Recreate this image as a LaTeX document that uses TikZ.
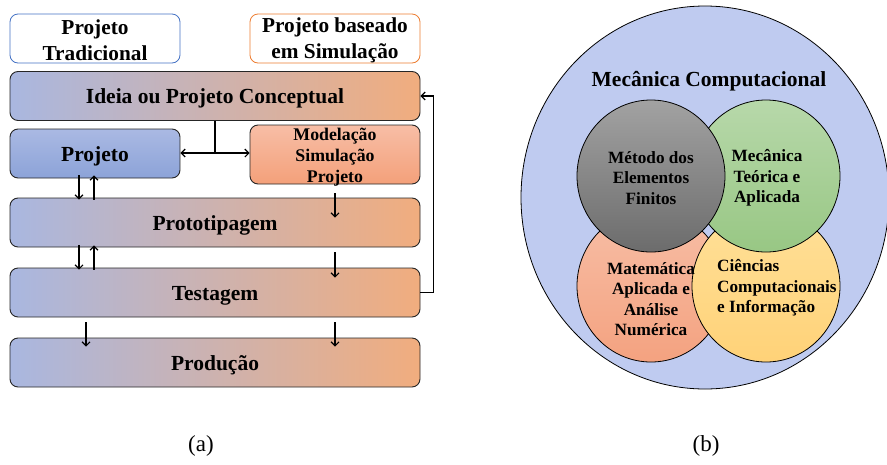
\documentclass[tikz,border=0pt]{standalone}
\usepackage{fontspec}
\setmainfont{Liberation Serif}
\usetikzlibrary{arrows.meta,calc}

\definecolor{stageL}{RGB}{169,183,224}
\definecolor{stageR}{RGB}{241,173,126}
\definecolor{projTop}{RGB}{170,185,227}
\definecolor{projBot}{RGB}{140,163,216}
\definecolor{simTop}{RGB}{247,190,166}
\definecolor{simBot}{RGB}{244,160,122}
\definecolor{hdrBlue}{RGB}{68,114,196}
\definecolor{hdrOrange}{RGB}{237,125,49}
\definecolor{outerFill}{RGB}{191,203,240}
\definecolor{grayTop}{RGB}{162,162,162}
\definecolor{grayBot}{RGB}{108,108,108}
\definecolor{greenTop}{RGB}{183,216,170}
\definecolor{greenBot}{RGB}{152,199,132}
\definecolor{salmonTop}{RGB}{247,190,166}
\definecolor{salmonBot}{RGB}{244,162,128}
\definecolor{yellowTop}{RGB}{255,224,152}
\definecolor{yellowBot}{RGB}{255,210,120}

\tikzset{
  boxbase/.style={rounded corners=8pt, inner sep=0pt, align=center},
  header/.style={boxbase, fill=white, line width=0.8pt,
    minimum width=170pt, minimum height=49pt},
  headtext/.style={inner sep=0pt, align=center,
    font=\bfseries\fontsize{21.3}{25.7}\selectfont},
  stage/.style={boxbase, draw=black!85, line width=0.9pt,
    left color=stageL, right color=stageR,
    minimum width=410pt, minimum height=49pt,
    text height=15pt, text depth=0pt,
    font=\bfseries\fontsize{21.5}{25}\selectfont},
  arr/.style={line width=1.1pt, -{Straight Barb[length=4pt,width=8pt]}},
  link/.style={line width=1.1pt},
  bubble/.style={draw=black, line width=0.8pt},
  bubtext/.style={inner sep=0pt, align=center,
    font=\bfseries\fontsize{17.2}{20.5}\selectfont},
}

\begin{document}
\begin{tikzpicture}[x=1pt,y=-1pt]
\useasboundingbox (0,0) rectangle (887,464);

% ---------- (a) design workflow ----------
\node[header, draw=hdrBlue]   (trad) at (95,38.5)  {};
\node[header, draw=hdrOrange] (simh) at (335,38.5) {};
\node[headtext] (tradtxt) at (95,40)  {Projeto\\Tradicional};
\node[headtext] (simhtxt) at (335,40) {Projeto baseado\\em Simulação};

\node[stage] (ideia) at (215,96) {Ideia ou Projeto Conceptual};
\node[boxbase, draw=black!85, line width=0.9pt, top color=projTop, bottom color=projBot,
      minimum width=170pt, minimum height=49pt, text height=15pt, text depth=0pt,
      font=\bfseries\fontsize{21.5}{25}\selectfont] (proj) at (95,153.5) {Projeto};
\node[boxbase, draw=black!85, line width=0.9pt, top color=simTop, bottom color=simBot,
      minimum width=170pt, minimum height=59pt] (model) at (335,154.5) {};
\node[inner sep=0pt, align=center, font=\bfseries\fontsize{17.8}{21}\selectfont]
      (modeltxt) at (335,157) {Modelação\\Simulação\\Projeto};
\node[stage] (proto) at (215,222.5) {Prototipagem};
\node[stage] (teste) at (215,292.5) {Testagem};
\node[stage] (prod)  at (215,362.5) {Produção};

% columns of the vertical arrows
\coordinate (cDown) at (79,0);
\coordinate (cUp)   at (94,0);
\coordinate (cProd) at (86,0);
\coordinate (cSim)  at (335,0);
\coordinate (split) at (215,153);

% concept splits into both design routes
\draw[link] (ideia.south) -- (split);
\draw[arr] (split) -- (split -| proj.east);
\draw[arr] (split) -- (split -| model.west);

% traditional route: back-and-forth iterations
\draw[arr] ([yshift=3pt]proj.south -| cDown) -- ([yshift=-2pt]proto.north -| cDown);
\draw[arr] ([yshift=-2pt]proto.north -| cUp) -- ([yshift=3pt]proj.south -| cUp);
\draw[arr] ([yshift=2pt]proto.south -| cDown) -- ([yshift=-2pt]teste.north -| cDown);
\draw[arr] ([yshift=-2pt]teste.north -| cUp) -- ([yshift=2pt]proto.south -| cUp);
\draw[arr] ([yshift=-5pt]teste.south -| cProd) -- ([yshift=-9pt]prod.north -| cProd);

% simulation-based route
\draw[arr] ([yshift=-9pt]model.south -| cSim) -- ([yshift=-20pt]proto.north -| cSim);
\draw[arr] ([yshift=-5pt]proto.south -| cSim) -- ([yshift=-10pt]teste.north -| cSim);
\draw[arr] ([yshift=-5pt]teste.south -| cSim) -- ([yshift=-9pt]prod.north -| cSim);

% feedback from testing to the concept
\draw[arr] (teste.east) -- ++(13,0) |- (ideia.east);

\node[font=\fontsize{23}{27}\selectfont, inner sep=0pt] (capA) at (201,446) {(a)};

% ---------- (b) computational mechanics ----------
\path[bubble, fill=outerFill] (705,197.5) ellipse [x radius=184, y radius=191.5];
\node[inner sep=0pt, font=\bfseries\fontsize{21.5}{25}\selectfont] (title) at (709,81)
  {Mecânica Computacional};

\path[bubble, top color=salmonTop, bottom color=salmonBot]
  (651,286) ellipse [x radius=74, y radius=76];
\path[bubble, top color=yellowTop, bottom color=yellowBot]
  (766,286) ellipse [x radius=74, y radius=76];
\path[bubble, top color=greenTop, bottom color=greenBot]
  (766,176) ellipse [x radius=74, y radius=76];
\path[bubble, top color=grayTop, bottom color=grayBot]
  (651,176) ellipse [x radius=74, y radius=76];

\node[bubtext] (mef)  at (651,178) {Método dos\\Elementos\\Finitos};
\node[bubtext] (mta)  at (767,178) {Mecânica\\Teórica e\\Aplicada};
\node[bubtext] (man)  at (651,299) {Matemática\\Aplicada e\\Análise\\Numérica};
\node[bubtext, align=left, anchor=west] (cci) at (717,288)
  {Ciências\\Computacionais\\e Informação};

\node[font=\fontsize{23}{27}\selectfont, inner sep=0pt] (capB) at (706,446) {(b)};
\end{tikzpicture}
\end{document}
